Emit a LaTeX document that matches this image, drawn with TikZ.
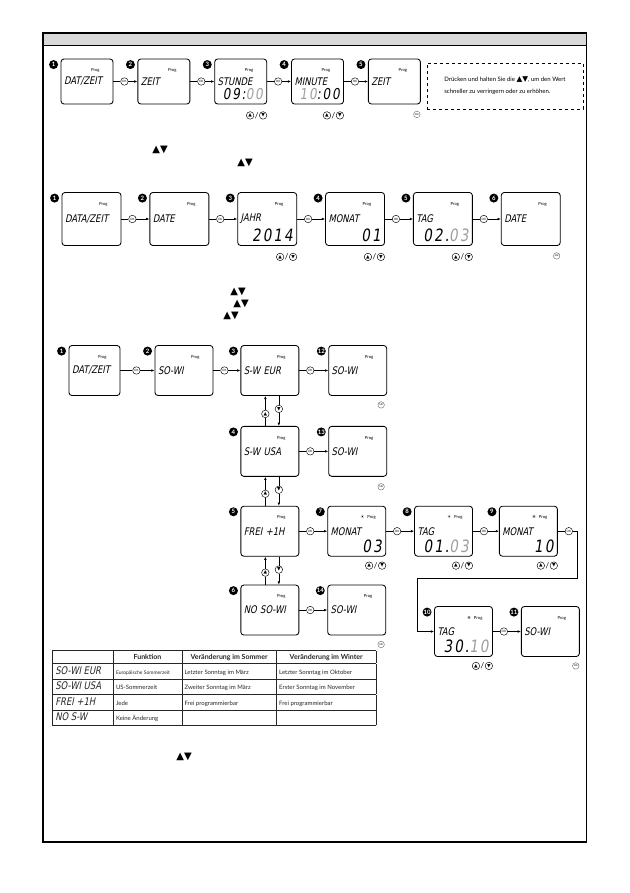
\documentclass[tikz,border=0pt]{standalone}
\usepackage{fontspec}
\usepackage{array}
\setmainfont{Lato}
\newfontfamily\symf{DejaVu Sans}
\newfontfamily\lcdf{DejaVu Sans}[FakeSlant=0.2,FakeStretch=0.8]
\newfontfamily\lcdd{DejaVu Sans}[FakeSlant=0.15,FakeStretch=0.8,LetterSpace=12]
\usetikzlibrary{arrows.meta,positioning}
\definecolor{lcdgray}{gray}{0.62}
\definecolor{bandgray}{gray}{0.85}
\newcommand{\lcdtxt}{\lcdf\fontsize{10.5}{11}\selectfont}
\newcommand{\updn}{{\symf\fontsize{7.5}{7.5}\selectfont ▲▼}}

\begin{document}
\begin{tikzpicture}[x=1pt,y=-1pt,>={Latex[length=3.2pt,width=2.6pt]},line width=0.6pt,
 screen/.style 2 args={draw,line width=0.85pt,rounded corners=3pt,align=left,inner xsep=3pt,inner ysep=0pt,
   text width=#1,minimum height=#2,font=\lcdtxt},
 rowA/.style={screen={46pt}{45pt}},
 rowB/.style={screen={53pt}{53pt}},
 rowC/.style={screen={52pt}{50pt}},
 num/.style={circle,fill=black,text=white,inner sep=0pt,minimum size=9pt,
   font=\bfseries\fontsize{6}{6}\selectfont,anchor=center,xshift=-7pt,yshift=-6pt},
 prog/.style={anchor=center,xshift=-18pt,yshift=-12pt,inner sep=0pt,font=\fontsize{4.2}{4.2}\selectfont},
 pane/.style={label={[num]north west:#1},label={[prog]north east:Prog}},
 sunpane/.style 2 args={label={[num]north west:#1},label={[prog]north east:{\symf #2}\hspace{3pt}Prog}},
 digits/.style={anchor=south east,xshift=-4pt,yshift=4pt,inner sep=0pt,font=\lcdd\fontsize{17}{17}\selectfont},
 dig/.style={label={[digits]south east:{#1}}},
 digA/.style={label={[digits,font=\lcdd\fontsize{15}{15}\selectfont]south east:{#1}}},
 ok/.style={circle,draw,line width=0.45pt,inner sep=0pt,minimum size=7.5pt,font=\fontsize{3}{3}\selectfont},
 btn/.style={circle,draw,line width=0.45pt,inner sep=0pt,minimum size=7.5pt,font=\symf\fontsize{4.6}{4.6}\selectfont},
 slash/.style={anchor=center,xshift=-2.5pt,inner sep=0pt,font=\fontsize{8}{8}\selectfont},
 mr/.style={circle,draw=black!60,line width=0.4pt,inner sep=0pt,minimum size=6.5pt,font=\fontsize{2.4}{2.4}\selectfont},
 tri/.style={inner sep=0pt,font=\symf\fontsize{10}{10}\selectfont}]
\useasboundingbox (0,0) rectangle (629,893);
% page frame with grey title band
\fill[bandgray] (43,33) rectangle (586.5,45.5);
\draw[line width=0.9pt] (43,45.5) -- (586.5,45.5);
\draw[line width=1.2pt] (43,33) rectangle (586.5,842);

% --- clock ---
\node[rowA,pane=1] (t1) at (87,81.5) {DAT/ZEIT};
\node[ok,right=7pt of t1] (tk1) {OK};
\node[rowA,pane=2,right=24pt of t1] (t2) {ZEIT};
\node[ok,right=7pt of t2] (tk2) {OK};
\node[rowA,pane=3,digA={09:{\color{lcdgray}00}},right=24pt of t2] (t3) {STUNDE};
\node[ok,right=7pt of t3] (tk3) {OK};
\node[rowA,pane=4,digA={{\color{lcdgray}10}:00},right=24pt of t3] (t4) {MINUTE};
\node[ok,right=7pt of t4] (tk4) {OK};
\node[rowA,pane=5,right=24pt of t4] (t5) {ZEIT};
\draw (t1) -- (tk1); \draw[->] (tk1) -- (t2);
\draw (t2) -- (tk2); \draw[->] (tk2) -- (t3);
\draw (t3) -- (tk3); \draw[->] (tk3) -- (t4);
\draw (t4) -- (tk4); \draw[->] (tk4) -- (t5);
\node[btn] (tu3) at ([xshift=-17pt,yshift=-11pt]t3.south east) {▲};
\node[btn,right=5pt of tu3,label={[slash]west:/}] (td3) {▼};
\node[btn] (tu4) at ([xshift=-17pt,yshift=-11pt]t4.south east) {▲};
\node[btn,right=5pt of tu4,label={[slash]west:/}] (td4) {▼};
\node[mr] (tm5) at ([xshift=-4pt,yshift=-10pt]t5.south east) {MR};
\node[draw,dashed,line width=0.8pt,minimum width=156pt,minimum height=46pt,align=left,
 font=\fontsize{6}{12}\selectfont] (hint) at (505,86)
 {Drücken und halten Sie die \updn, um den Wert\\schneller zu verringern oder zu erhöhen.};

\node[tri] (s1) at (160,150) {▲▼};
\node[tri] (s2) at (245,163) {▲▼};

% --- date ---
\node[rowB,pane=1] (d1) at (91.5,219) {DATA/ZEIT};
\node[ok,right=7pt of d1] (dk1) {OK};
\node[rowB,pane=2,right=28pt of d1] (d2) {DATE};
\node[ok,right=7pt of d2] (dk2) {OK};
\node[rowB,pane=3,dig={2014},right=28pt of d2] (d3) {JAHR};
\node[ok,right=7pt of d3] (dk3) {OK};
\node[rowB,pane=4,dig={01},right=28pt of d3] (d4) {MONAT};
\node[ok,right=7pt of d4] (dk4) {OK};
\node[rowB,pane=5,dig={02.{\color{lcdgray}03}},right=28pt of d4] (d5) {TAG};
\node[ok,right=7pt of d5] (dk5) {OK};
\node[rowB,pane=6,right=28pt of d5] (d6) {DATE};
\draw (d1) -- (dk1); \draw[->] (dk1) -- (d2);
\draw (d2) -- (dk2); \draw[->] (dk2) -- (d3);
\draw (d3) -- (dk3); \draw[->] (dk3) -- (d4);
\draw (d4) -- (dk4); \draw[->] (dk4) -- (d5);
\draw (d5) -- (dk5); \draw[->] (dk5) -- (d6);
\node[btn] (du3) at ([xshift=-17pt,yshift=-11pt]d3.south east) {▲};
\node[btn,right=5pt of du3,label={[slash]west:/}] (dd3) {▼};
\node[btn] (du4) at ([xshift=-17pt,yshift=-11pt]d4.south east) {▲};
\node[btn,right=5pt of du4,label={[slash]west:/}] (dd4) {▼};
\node[btn] (du5) at ([xshift=-17pt,yshift=-11pt]d5.south east) {▲};
\node[btn,right=5pt of du5,label={[slash]west:/}] (dd5) {▼};
\node[mr] (dm6) at ([xshift=-4pt,yshift=-10pt]d6.south east) {MR};

\node[tri] (s3) at (238,292) {▲▼};
\node[tri] (s4) at (241,303.5) {▲▼};
\node[tri] (s5) at (231,316) {▲▼};

% --- summer / winter time ---
\node[rowC,text width=45pt,pane=1] (b1) at (94.5,370.5) {DAT/ZEIT};
\node[ok,right=12pt of b1] (bk1) {OK};
\node[rowC,pane=2] (b2) at (184,370.5) {SO-WI};
\node[ok,right=7pt of b2] (bk2) {OK};
\node[rowC,pane=3,right=27pt of b2] (b3) {S-W EUR};
\node[ok,right=7pt of b3] (bk3) {OK};
\node[rowC,pane=12,right=29pt of b3] (b12) {SO-WI};
\node[rowC,pane=4,below=30pt of b3] (b4) {S-W USA};
\node[ok,right=7pt of b4] (bk4) {OK};
\node[rowC,pane=13,right=29pt of b4] (b13) {SO-WI};
\node[rowC,pane=5,below=29pt of b4] (b5) {FREI +1H};
\node[ok,right=7pt of b5] (bk5) {OK};
\node[rowC,sunpane={7}{☀},dig={03},right=28pt of b5] (b7) {MONAT};
\node[ok,right=7pt of b7] (bk7) {OK};
\node[rowC,sunpane={8}{☀},dig={01.{\color{lcdgray}03}},right=28pt of b7] (b8) {TAG};
\node[ok,right=7pt of b8] (bk8) {OK};
\node[rowC,sunpane={9}{❄},dig={10},right=26pt of b8] (b9) {MONAT};
\node[ok,right=7pt of b9] (bk9) {OK};
\node[rowC,pane=6,below=28pt of b5] (b6) {NO SO-WI};
\node[ok,right=7pt of b6] (bk6) {OK};
\node[rowC,pane=14,right=28pt of b6] (b14) {SO-WI};
\node[rowC,sunpane={10}{❄},dig={30.{\color{lcdgray}10}}] (b10) at (463.5,631.5) {TAG};
\node[ok,right=7pt of b10] (bk10) {OK};
\node[rowC,pane=11,right=28pt of b10] (b11) {SO-WI};
\coordinate (r1) at (577,578);
\coordinate (r2) at (417,578);
\draw (b1) -- (bk1); \draw[->] (bk1) -- (b2);
\draw (b2) -- (bk2); \draw[->] (bk2) -- (b3);
\draw (b3) -- (bk3); \draw[->] (bk3) -- (b12);
\draw (b4) -- (bk4); \draw[->] (bk4) -- (b13);
\draw (b5) -- (bk5); \draw[->] (bk5) -- (b7);
\draw (b7) -- (bk7); \draw[->] (bk7) -- (b8);
\draw (b8) -- (bk8); \draw[->] (bk8) -- (b9);
\draw (b9) -- (bk9); \draw[->] (bk9) -| (r1) -- (r2) |- (b10);
\draw (b10) -- (bk10); \draw[->] (bk10) -- (b11);
\draw (b6) -- (bk6); \draw[->] (bk6) -- (b14);
% up / down between the modes
\node[btn] (vu34) at ([xshift=-4.5pt,yshift=12pt]b4.north) {▲};
\node[btn] (vd34) at ([xshift=9pt,yshift=-13pt]b3.south) {▼};
\node[btn] (vu45) at ([xshift=-4.5pt,yshift=12pt]b5.north) {▲};
\node[btn] (vd45) at ([xshift=9pt,yshift=-13pt]b4.south) {▼};
\node[btn] (vu56) at ([xshift=-4.5pt,yshift=12pt]b6.north) {▲};
\node[btn] (vd56) at ([xshift=9pt,yshift=-13pt]b5.south) {▼};
\draw (b4.north -| vu34) -- (vu34); \draw[->] (vu34) -- (b3.south -| vu34);
\draw (b3.south -| vd34) -- (vd34); \draw[->] (vd34) -- (b4.north -| vd34);
\draw (b5.north -| vu45) -- (vu45); \draw[->] (vu45) -- (b4.south -| vu45);
\draw (b4.south -| vd45) -- (vd45); \draw[->] (vd45) -- (b5.north -| vd45);
\draw (b6.north -| vu56) -- (vu56); \draw[->] (vu56) -- (b5.south -| vu56);
\draw (b5.south -| vd56) -- (vd56); \draw[->] (vd56) -- (b6.north -| vd56);
% buttons under the boxes
\node[btn] (bu7) at ([xshift=-17pt,yshift=-9pt]b7.south east) {▲};
\node[btn,right=5pt of bu7,label={[slash]west:/}] (bd7) {▼};
\node[btn] (bu8) at ([xshift=-17pt,yshift=-9pt]b8.south east) {▲};
\node[btn,right=5pt of bu8,label={[slash]west:/}] (bd8) {▼};
\node[btn] (bu9) at ([xshift=-17pt,yshift=-9pt]b9.south east) {▲};
\node[btn,right=5pt of bu9,label={[slash]west:/}] (bd9) {▼};
\node[btn] (bu10) at ([xshift=-17pt,yshift=-9pt]b10.south east) {▲};
\node[btn,right=5pt of bu10,label={[slash]west:/}] (bd10) {▼};
\node[mr] (bm12) at ([xshift=-6pt,yshift=-9pt]b12.south east) {MR};
\node[mr] (bm13) at ([xshift=-6pt,yshift=-10pt]b13.south east) {MR};
\node[mr] (bm14) at ([xshift=-5pt,yshift=-9pt]b14.south east) {MR};
\node[mr] (bm11) at ([xshift=-4pt,yshift=-9pt]b11.south east) {MR};

% mode table
\node[anchor=north west,inner sep=0pt] (tab) at (52,650) {%
 \setlength{\tabcolsep}{2.5pt}\setlength{\arrayrulewidth}{0.6pt}%
 \fontsize{6}{7}\selectfont\color{black!85}%
 \begin{tabular}{|p{55pt}|p{63pt}|p{89pt}|p{94pt}|}
 \hline
 \rule[-3.5pt]{0pt}{12pt} & \multicolumn{1}{c|}{\fontsize{7}{8}\selectfont\bfseries Funktion}
  & \multicolumn{1}{c|}{\fontsize{7}{8}\selectfont\bfseries Veränderung im Sommer}
  & \multicolumn{1}{c|}{\fontsize{7}{8}\selectfont\bfseries Veränderung im Winter}\\ \hline
 \rule[-4.5pt]{0pt}{15pt}{\lcdtxt SO-WI EUR} & {\fontsize{5}{6}\selectfont Europäische Sommerzeit}
  & Letzter Sonntag im März & Letzter Sonntag im Oktober\\ \hline
 \rule[-4.5pt]{0pt}{15pt}{\lcdtxt SO-WI USA} & US-Sommerzeit & Zweiter Sonntag im März & Erster Sonntag im November\\ \hline
 \rule[-4.5pt]{0pt}{15pt}{\lcdtxt FREI +1H} & Jede & Frei programmierbar & Frei programmierbar\\ \hline
 \rule[-4.5pt]{0pt}{15pt}{\lcdtxt NO S-W} & Keine Änderung & & \\ \hline
 \end{tabular}};

\node[tri] (s6) at (184,757) {▲▼};
\end{tikzpicture}
\end{document}
